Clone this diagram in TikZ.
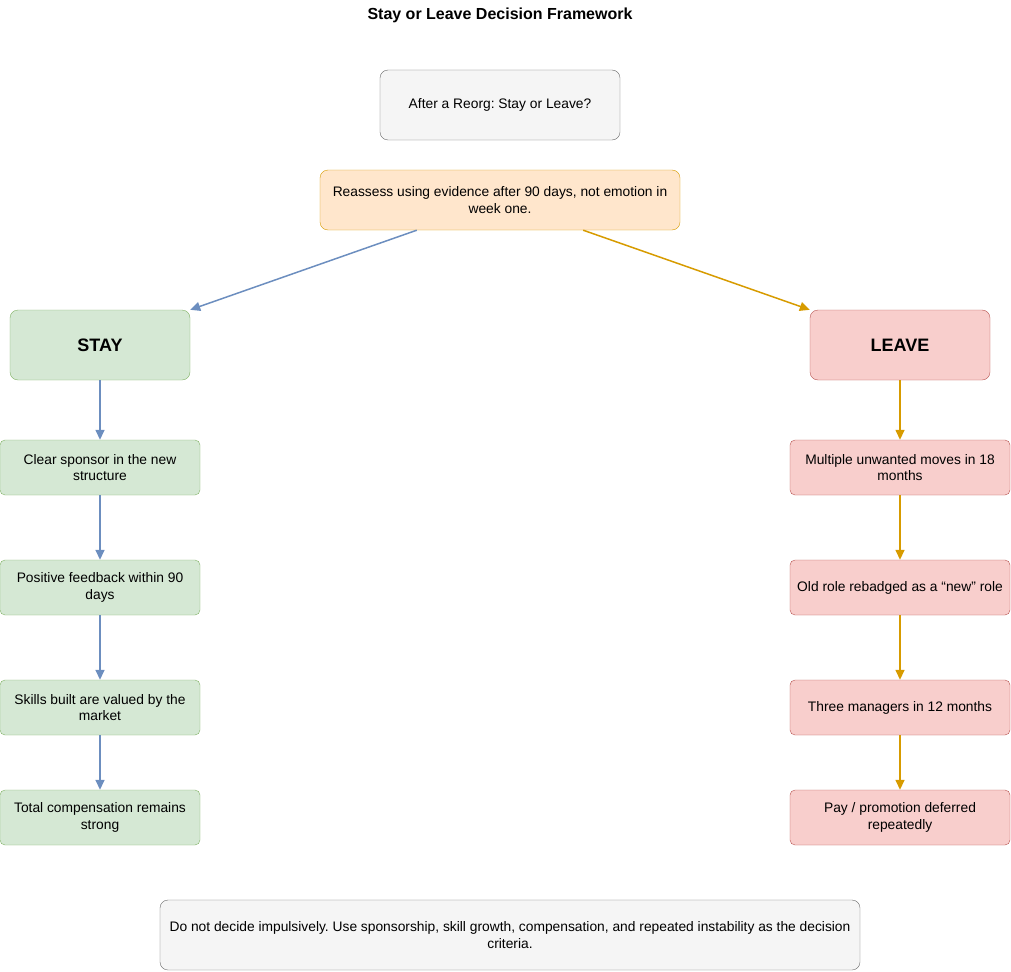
\documentclass[tikz,border=0pt]{standalone}
\usepackage{fontspec}
\setmainfont{Liberation Sans}
\frenchspacing
\usetikzlibrary{arrows.meta}
\definecolor{gf}{HTML}{D5E8D4}\definecolor{gd}{HTML}{82B366}
\definecolor{rf}{HTML}{F8CECC}\definecolor{rd}{HTML}{B85450}
\definecolor{of}{HTML}{FFE6CC}\definecolor{od}{HTML}{D79B00}
\definecolor{nf}{HTML}{F5F5F5}\definecolor{nd}{HTML}{666666}
\definecolor{bl}{HTML}{6C8EBF}
\begin{document}
\begin{tikzpicture}[x=1pt,y=-1pt,
 box/.style={draw, rounded corners=8pt, align=center, font=\fontsize{13.8}{16.5}\selectfont, inner sep=0pt},
 grn/.style={box, fill=gf, draw=gd},
 red/.style={box, fill=rf, draw=rd},
 gry/.style={box, fill=nf, draw=nd},
 arr/.style={-{Triangle[length=10pt,width=9pt]}, line width=1.5pt}]
\useasboundingbox (0,0) rectangle (1011,971);
\node[font=\bfseries\fontsize{16}{19}\selectfont] (title) at (500,15) {Stay or Leave Decision Framework};
\node[gry, minimum width=240pt, minimum height=70pt] (top) at (500,105) {After a Reorg: Stay or Leave?};
\node[box, fill=of, draw=od, minimum width=360pt, minimum height=60pt] (re) at (500,200) {Reassess using evidence after 90 days, not emotion in\\week one.};
\node[grn, minimum width=180pt, minimum height=70pt, font=\bfseries\fontsize{18}{21}\selectfont] (stay) at (100,345) {STAY};
\node[red, minimum width=180pt, minimum height=70pt, font=\bfseries\fontsize{18}{21}\selectfont] (leave) at (900,345) {LEAVE};
\tikzset{sb/.style={minimum width=200pt, minimum height=55pt, rounded corners=5pt},
 rb/.style={minimum width=220pt, minimum height=55pt, rounded corners=5pt}}
\node[grn, sb] (s1) at (100,467.5) {Clear sponsor in the new\\structure};
\node[grn, sb] (s2) at (100,587.5) {Positive feedback within 90\\days};
\node[grn, sb] (s3) at (100,707.5) {Skills built are valued by the\\market};
\node[grn, sb] (s4) at (100,817.5) {Total compensation remains\\strong};
\node[red, rb] (l1) at (900,467.5) {Multiple unwanted moves in 18\\months};
\node[red, rb] (l2) at (900,587.5) {Old role rebadged as a “new” role};
\node[red, rb] (l3) at (900,707.5) {Three managers in 12 months};
\node[red, rb] (l4) at (900,817.5) {Pay / promotion deferred\\repeatedly};
\node[gry, minimum width=700pt, minimum height=70pt] (bot) at (510,935) {Do not decide impulsively. Use sponsorship, skill growth, compensation, and repeated instability as the decision\\criteria.};
\draw[arr, bl] (re.south west)++(97,0) -- (stay.north east);
\draw[arr, od] (re.south east)++(-97,0) -- (leave.north west);
\draw[arr, bl] (stay) -- (s1); \draw[arr, bl] (s1) -- (s2); \draw[arr, bl] (s2) -- (s3); \draw[arr, bl] (s3) -- (s4);
\draw[arr, od] (leave) -- (l1); \draw[arr, od] (l1) -- (l2); \draw[arr, od] (l2) -- (l3); \draw[arr, od] (l3) -- (l4);
\end{tikzpicture}
\end{document}
